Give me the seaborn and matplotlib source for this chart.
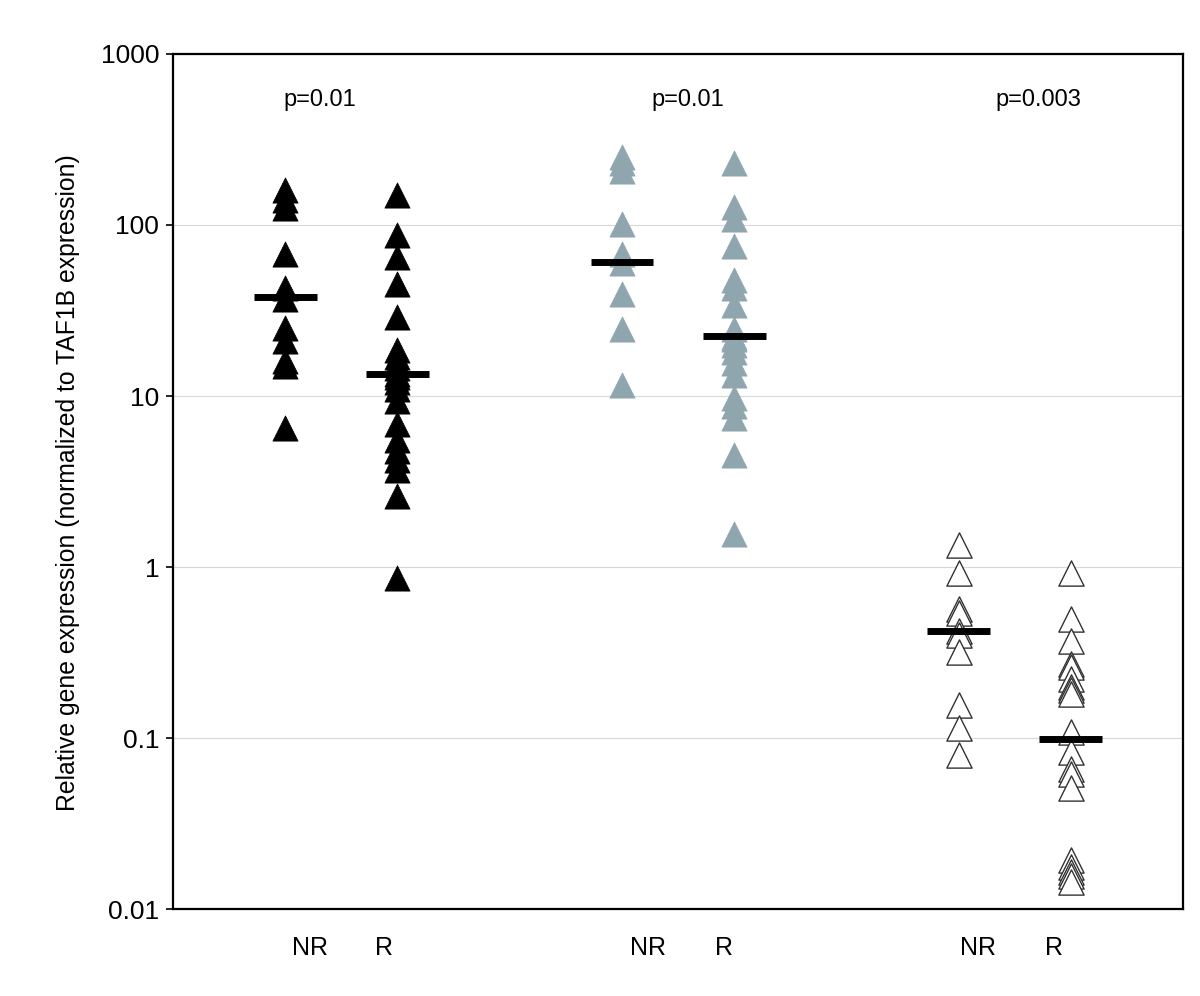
import numpy as np
import pandas as pd
import seaborn as sns
import matplotlib
matplotlib.use('Agg')
import matplotlib.pyplot as plt
from matplotlib.ticker import FixedLocator, FixedFormatter, NullLocator

sns.set_style('white')
plt.rcParams['font.family'] = ['Liberation Sans', 'DejaVu Sans']
plt.rcParams['text.color'] = 'black'
plt.rcParams['ytick.color'] = 'black'
plt.rcParams['ytick.labelcolor'] = 'black'

# values (relative expression, log scale)
g1_nr = [160, 140, 125, 68, 43, 37, 25, 21, 16, 15, 6.5]
g1_r = [150, 87, 65, 45, 29, 18.5, 17, 15.5, 14.5, 13.5, 13, 12, 11, 9.3, 6.9,
        5.5, 4.8, 4.2, 3.7, 2.6, 0.86]
g2_nr = [250, 229, 208, 102, 68, 60, 39.5, 24.5, 11.6]
g2_r = [229, 128, 109, 75, 48, 43, 34, 24.5, 22, 21.5, 20, 18, 15.5, 13.3,
        9.7, 8.7, 7.4, 4.5, 1.56]
g3_nr = [1.35, 0.92, 0.57, 0.54, 0.42, 0.40, 0.32, 0.156, 0.114, 0.080]
g3_r = [0.92, 0.50, 0.37, 0.27, 0.26, 0.22, 0.20, 0.19, 0.18, 0.109, 0.083,
        0.066, 0.062, 0.051, 0.0194, 0.0177, 0.0165, 0.0155, 0.0144]

medians = [38, 13.4, 61, 22.3, 0.42, 0.099]
p_values = ['p=0.01', 'p=0.01', 'p=0.003']
x_labels = ['NR', 'R', 'NR', 'R', 'NR', 'R']
y_ticks = [0.01, 0.1, 1, 10, 100, 1000]
y_ticklabels = ['0.01', '0.1', '1', '10', '100', '1000']

# long table
series = [g1_nr, g1_r, g2_nr, g2_r, g3_nr, g3_r]
rows = []
for i, vals in enumerate(series):
    grp = i // 2
    pos = 3 * grp + 1 + (i % 2)
    for v in vals:
        rows.append({'group': grp, 'status': x_labels[i], 'x': pos, 'value': v})
df = pd.DataFrame(rows)

fig = plt.figure(figsize=(12, 9.96), dpi=100)
ax = fig.add_axes([0.1442, 0.0873, 0.8417, 0.8585])

styles = [
    dict(color='black', edgecolor='black', linewidth=0.5),
    dict(color='#8fa6af', edgecolor='#8fa6af', linewidth=0.5),
    dict(color='white', edgecolor='#333333', linewidth=1.0),
]
for g in range(3):
    sub = df[df['group'] == g]
    sns.scatterplot(data=sub, x='x', y='value', marker='^', s=330, ax=ax,
                    legend=False, zorder=3, **styles[g])

# median bars
for i, m in enumerate(medians):
    pos = 3 * (i // 2) + 1 + (i % 2)
    ax.plot([pos - 0.28, pos + 0.28], [m, m], color='black', lw=5,
            solid_capstyle='butt', zorder=4)

ax.set_yscale('log')
ax.set_ylim(0.01, 1000)
ax.set_xlim(0, 9)
ax.yaxis.set_major_locator(FixedLocator(y_ticks))
ax.yaxis.set_major_formatter(FixedFormatter(y_ticklabels))
ax.yaxis.set_minor_locator(NullLocator())
ax.grid(axis='y', color='#d8d8d8', lw=0.8)
ax.set_axisbelow(True)

ax.set_xticks(range(10))
ax.set_xticklabels([])
ax.tick_params(axis='x', length=8, width=0.8, color='#cccccc', direction='out')
ax.tick_params(axis='y', length=5, width=1.2, labelsize=19, direction='out',
               left=True, pad=5)
for sp in ax.spines.values():
    sp.set_color('black')
    sp.set_linewidth(1.6)

ax.set_xlabel('')
ax.set_ylabel('')

# category labels under the axis
label_x = [1.22, 1.88, 4.23, 4.91, 7.17, 7.85]
for lx, lab in zip(label_x, x_labels):
    ax.text(lx, -0.045, lab, transform=ax.get_xaxis_transform(),
            ha='center', va='center', fontsize=18)

# p-values
p_x = [1.31, 4.59, 7.71]
for px, pt in zip(p_x, p_values):
    ax.text(px, 540, pt, ha='center', va='center', fontsize=17)

fig.text(0.057, 0.515, 'Relative gene expression (normalized to TAF1B expression)',
         rotation=90, ha='center', va='center', fontsize=17.8)

fig.savefig('out.png', dpi=100)
